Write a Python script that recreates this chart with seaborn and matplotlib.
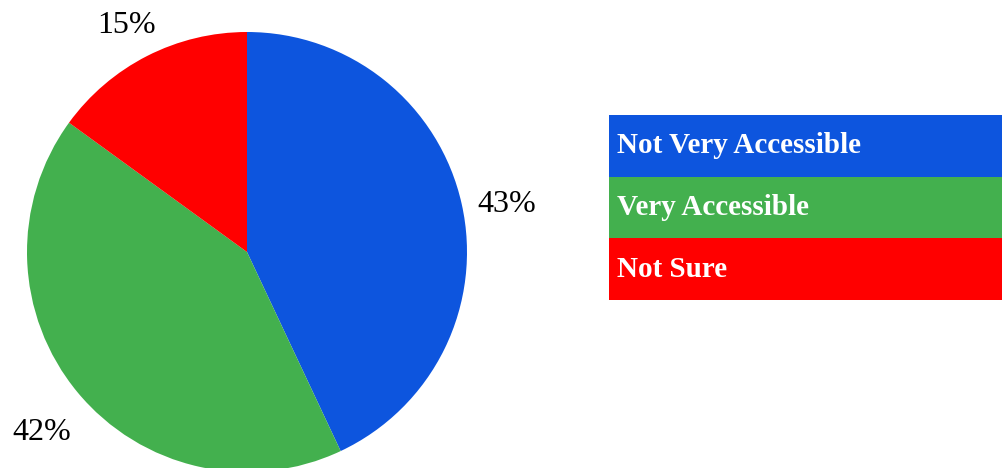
import matplotlib
matplotlib.use("Agg")
import matplotlib.pyplot as plt
from matplotlib.transforms import offset_copy
import seaborn as sns
import numpy as np

# Data
labels = ["Not Very Accessible", "Very Accessible", "Not Sure"]
shares = [43, 42, 15]
colors = ["#0d55de", "#43b04e", "#ff0000"]

sns.set_theme(style="white")
plt.rcParams["font.family"] = ["Liberation Serif", "DejaVu Serif"]

fig = plt.figure(figsize=(10.03, 4.68), dpi=100)
fig.patch.set_facecolor("white")

# Pie axes (circle of radius 220 px, centre at x=247, y=252 from top)
ax = fig.add_axes([27 / 1003, -4 / 468, 440 / 1003, 440 / 468])
wedges, texts, autotexts = ax.pie(
    shares,
    colors=colors,
    startangle=90,
    counterclock=False,
    autopct=lambda p: f"{p:.0f}%",
    pctdistance=1.21,
    wedgeprops=dict(linewidth=0),
    textprops=dict(fontsize=23, color="black"),
)
# labels sit a little lower in the reference
for t in autotexts:
    t.set_transform(offset_copy(ax.transData, fig, x=0, y=-11, units="dots"))
ax.set_xlim(-1, 1)
ax.set_ylim(-1, 1)
ax.set_aspect("equal")
ax.axis("off")

# Legend drawn as coloured rows
lax = fig.add_axes([609 / 1003, (468 - 300) / 468, 394 / 1003, 185 / 468])
y_pos = np.arange(len(labels))
lax.barh(y_pos, [1] * len(labels), height=1.0, color=colors, left=0,
         linewidth=0, edgecolor="none")
for y, lab in zip(y_pos, labels):
    lax.text(0.021, y, lab, color="white", fontsize=21, fontweight="bold",
             va="center", ha="left")
lax.set_xlim(0, 1)
lax.set_ylim(len(labels) - 0.5, -0.5)
lax.axis("off")

fig.savefig("out.png", dpi=100)
